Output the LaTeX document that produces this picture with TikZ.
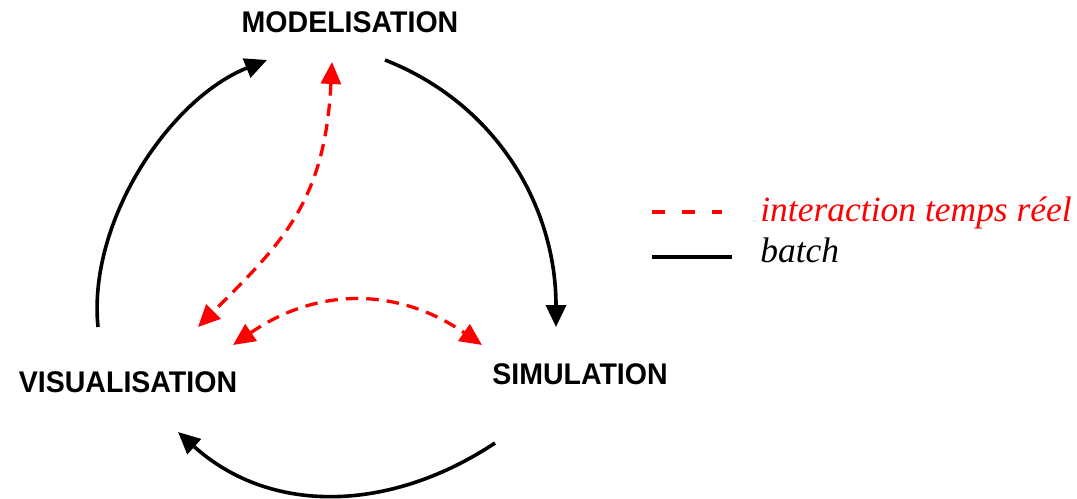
\documentclass[tikz,border=0pt]{standalone}
\usepackage{fontspec}
\setmainfont{Liberation Serif}
\newfontfamily\labfont{Liberation Sans}
\usetikzlibrary{arrows.meta}
\definecolor{rred}{RGB}{255,0,0}
\newcommand{\lbltext}[1]{\scalebox{0.955}[1]{#1}}
\tikzset{
  lbl/.style={font=\labfont\fontsize{17pt}{19pt}\selectfont\bfseries, inner sep=0pt, anchor=base},
  leg/.style={font=\fontsize{20.2pt}{22pt}\selectfont\itshape, inner sep=0pt, anchor=base west},
  batchline/.style={line width=0.072cm, black},
  rtline/.style={line width=0.066cm, rred, dash pattern=on 0.25cm off 0.16cm},
  tipb/.style={-{Triangle[length=0.44cm,width=0.40cm]}},
  tipr/.style={{Triangle[length=0.44cm,width=0.40cm]}-{Triangle[length=0.44cm,width=0.40cm]}},
}
\begin{document}
\begin{tikzpicture}[x=0.02cm,y=-0.02cm]
\useasboundingbox (0,0) rectangle (1077,499);
% labels
\node[lbl] (mod) at (350,33) {\lbltext{MODELISATION}};
\node[lbl] (vis) at (128,392) {\lbltext{VISUALISATION}};
\node[lbl] (sim) at (580,384) {\lbltext{SIMULATION}};
% arc end points
\coordinate (l0) at (98,327);
\coordinate (l1) at (267,60);
\coordinate (r0) at (385,60);
\coordinate (r1) at (556,327);
\coordinate (b0) at (495,443);
\coordinate (b1) at (178,432);
\coordinate (m0) at (332,62);
\coordinate (m1) at (198,327);
\coordinate (s0) at (233,345);
\coordinate (s1) at (482,345);
% batch arcs
\draw[batchline,tipb] (l0) .. controls (87.5,222) and (169,99) .. (l1);
\draw[batchline,tipb] (r0) .. controls (497,104) and (556,207) .. (r1);
\draw[batchline,tipb] (b0) .. controls (391,512) and (271,516) .. (b1);
% real-time arcs
\draw[rtline,tipr] (m0) .. controls (325,202) and (282,243) .. (m1);
\draw[rtline,tipr] (s0) .. controls (317,287) and (398,287) .. (s1);
% legend
\coordinate (lr0) at (652,212);
\coordinate (lr1) at (722,212);
\coordinate (lb0) at (652,257);
\coordinate (lb1) at (732,257);
\draw[line width=0.066cm, rred, dash pattern=on 0.26cm off 0.34cm] (lr0) -- (lr1);
\draw[batchline] (lb0) -- (lb1);
\node[leg, text=rred] (legr) at (760,222) {interaction temps réel};
\node[leg] (legb) at (760,263) {batch};
\end{tikzpicture}
\end{document}
